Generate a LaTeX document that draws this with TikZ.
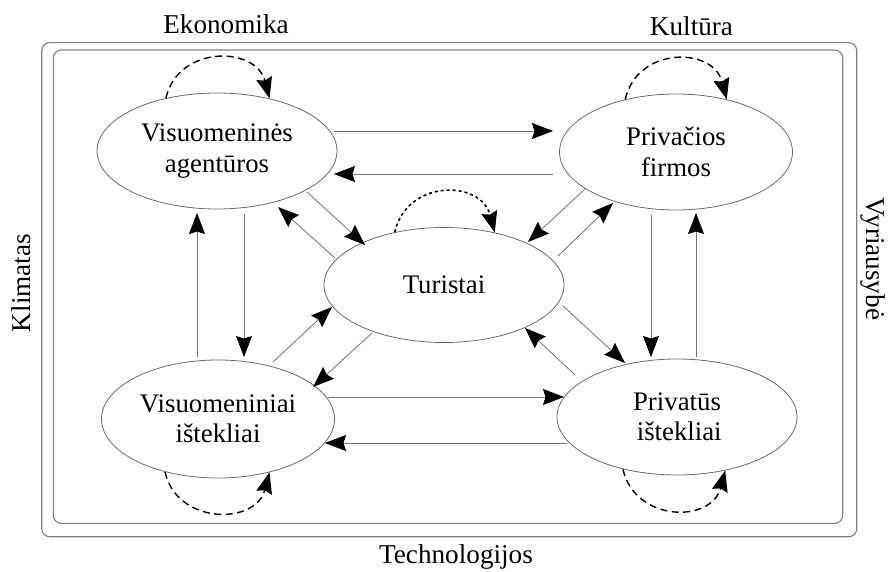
\documentclass[tikz,border=0pt]{standalone}
\usepackage{fontspec}
\setmainfont{Liberation Serif}
\usetikzlibrary{arrows.meta,calc,shapes.geometric}

\begin{document}
\begin{tikzpicture}[x=1pt,y=-1pt,
  actor/.style={draw=black!58, line width=0.8pt, ellipse, inner sep=0pt,
    align=center, font=\fontsize{26.8}{30.5}\selectfont},
  frame/.style={draw=black!50, line width=1.1pt, rounded corners=8pt},
  label/.style={font=\fontsize{27.2}{31}\selectfont, inner sep=0pt},
  tip/.style={-{Stealth[length=21pt,width=16pt,inset=2.5pt,color=black]}},
  flow/.style={tip, draw=black!55, line width=0.8pt},
  selfloop/.style={tip, draw=black, line width=1.4pt, dash pattern=on 7pt off 4.5pt},
  selfdots/.style={tip, draw=black, line width=1.6pt, dash pattern=on 3pt off 3pt}]

\useasboundingbox (0,0) rectangle (892,572);

% environment frames
\draw[frame] (41.7,42.7) rectangle (856.7,536.7);
\draw[frame] (53.3,50) rectangle (842.7,523.3);

% environment labels
\node[label, anchor=base] (eko) at (226,33.5) {Ekonomika};
\node[label, anchor=base] (kul) at (691.5,35.5) {Kultūra};
\node[label, anchor=base] (tech) at (456,563) {Technologijos};
\node[label, rotate=90] (klim) at (21,283) {Klimatas};
\node[label, rotate=-90] (vyr) at (873,259) {Vyriausybė};

% actors
\node[actor, minimum width=240pt, minimum height=116pt] (va) at (217,151) {Visuomeninės\\agentūros};
\node[actor, minimum width=233pt, minimum height=116pt] (pf) at (676,152) {Privačios\\firmos};
\node[actor, minimum width=240pt, minimum height=115pt] (t) at (444,285) {Turistai};
\node[actor, minimum width=233pt, minimum height=118pt] (vi) at (218,419) {Visuomeniniai\\ištekliai};
\node[actor, minimum width=240pt, minimum height=116pt] (pi) at (677,417) {Privatūs\\ \,ištekliai};

% horizontal flows
\draw[flow] ($(va)+(117,-20)$) -- ($(pf)+(-123,-21)$);
\draw[flow] ($(pf)+(-123,22)$) -- ($(va)+(117,23)$);
\draw[flow] ($(vi)+(110,-22)$) -- ($(pi)+(-113,-20)$);
\draw[flow] ($(pi)+(-110,26)$) -- ($(vi)+(107,24)$);

% vertical flows
\draw[flow] ($(va)+(27,63)$) -- ($(vi)+(26,-62)$);
\draw[flow] ($(vi)+(-21,-62)$) -- ($(va)+(-20,62)$);
\draw[flow] ($(pf)+(-25,63)$) -- ($(pi)+(-26,-60)$);
\draw[flow] ($(pi)+(19,-60)$) -- ($(pf)+(20,61)$);

% diagonal flows through the tourists
\draw[flow] ($(va)+(90,41)$) -- ($(t)+(-79,-40)$);
\draw[flow] ($(t)+(-109,-27)$) -- ($(va)+(61,56)$);
\draw[flow] ($(pf)+(-91,37)$) -- ($(t)+(84,-43)$);
\draw[flow] ($(t)+(114,-29)$) -- ($(pf)+(-63,51)$);
\draw[flow] ($(vi)+(55,-57)$) -- ($(t)+(-112,22)$);
\draw[flow] ($(t)+(-72,48)$) -- ($(vi)+(95,-32)$);
\draw[flow] ($(t)+(119,21)$) -- ($(pi)+(-52,-54)$);
\draw[flow] ($(pi)+(-102,-42)$) -- ($(t)+(81,43)$);

% self loops
\draw[selfloop] (va.134) .. controls +(12,-53) and +(-14,-53) .. (va.45);
\draw[selfloop] (pf.134) .. controls +(12,-53) and +(-14,-53) .. (pf.46);
\draw[selfdots] (t.133) .. controls +(12,-53) and +(-14,-53) .. (t.46);
\draw[selfloop] (vi.225) .. controls +(12,53) and +(-14,53) .. (vi.314);
\draw[selfloop] (pi.224) .. controls +(12,53) and +(-14,53) .. (pi.312);
\end{tikzpicture}
\end{document}
